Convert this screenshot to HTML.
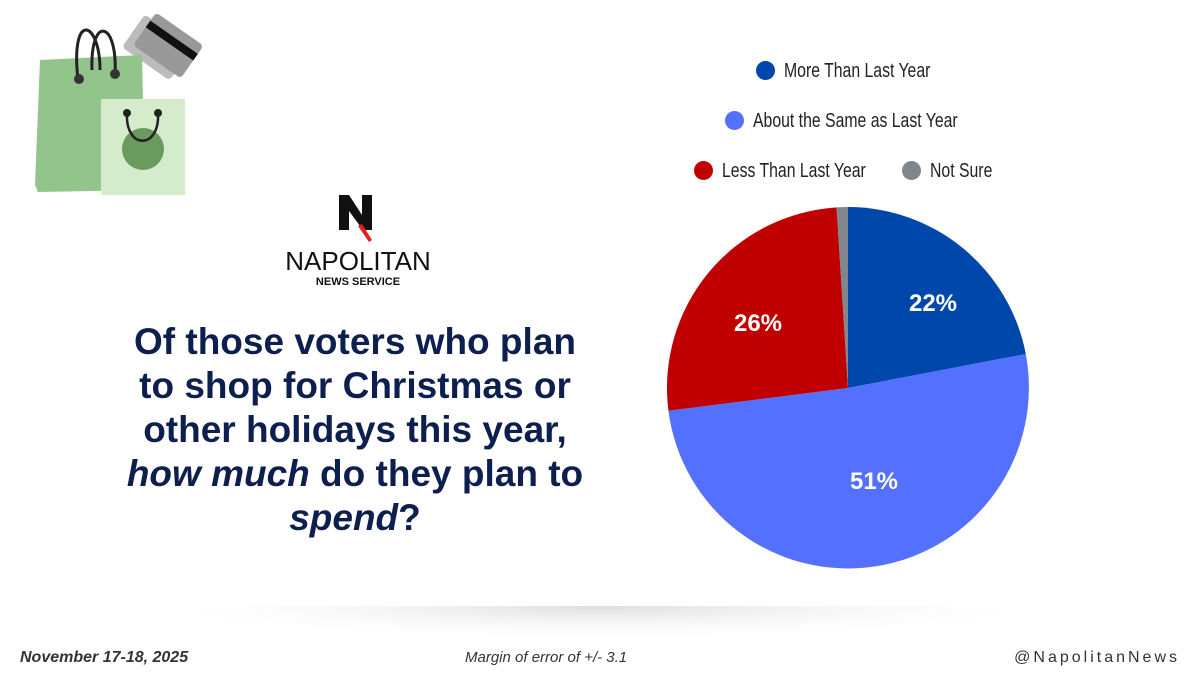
<!DOCTYPE html>
<html><head><meta charset="utf-8"><style>
html,body{margin:0;padding:0;background:#fff;}
body{width:1200px;height:675px;position:relative;overflow:hidden;font-family:"Liberation Sans",sans-serif;}
.leg{position:absolute;font-family:"Liberation Sans",sans-serif;font-size:20px;color:#222;white-space:nowrap;}
.leg span.t{display:inline-block;transform:scaleX(0.79);transform-origin:left center;}
.dot{display:inline-block;width:19px;height:19px;border-radius:50%;vertical-align:-3px;margin-right:9px;}
.title{position:absolute;left:100px;top:320px;width:510px;text-align:center;font-weight:bold;font-size:37px;line-height:44px;color:#0d1f4f;white-space:nowrap;}
.foot{position:absolute;top:649px;font-size:16px;color:#333;font-style:italic;}
</style></head><body>
<svg width="1200" height="675" style="position:absolute;left:0;top:0">
<defs><radialGradient id="sh" cx="50%" cy="0%" r="60%"><stop offset="0" stop-color="#ddd"/><stop offset="1" stop-color="#fff" stop-opacity="0"/></radialGradient></defs>
<rect x="200" y="606" width="800" height="60" fill="url(#sh)"/>
<g transform="rotate(35 158 48)"><rect x="128" y="28" width="58" height="40" rx="4" fill="#bbb"/><rect x="136" y="20" width="58" height="40" rx="4" fill="#999"/><rect x="136" y="30" width="58" height="8" fill="#111"/></g>
<polygon points="40,60 142,55 145,190 38,192 35,185" fill="#93c48b"/>
<path d="M78,80 C70,10 100,20 100,70 M92,70 C90,15 118,20 115,75" stroke="#222" stroke-width="3" fill="none"/>
<circle cx="79" cy="79" r="5" fill="#333"/><circle cx="115" cy="74" r="5" fill="#333"/>
<rect x="101" y="99" width="84" height="96" fill="#d4eccc"/>
<circle cx="143" cy="149" r="21" fill="#6b9a5e"/>
<path d="M127,113 C125,150 160,150 158,113" stroke="#222" stroke-width="2.5" fill="none"/>
<circle cx="127" cy="113" r="4" fill="#222"/><circle cx="158" cy="113" r="4" fill="#222"/>
<polygon points="339,195 349,195 362,215 362,195 372,195 372,230 363,230 349,211 349,230 339,230" fill="#111"/>
<polygon points="358,226 362,224 372,240 369,242" fill="#d22"/>
<text x="358" y="270" text-anchor="middle" font-family="Liberation Sans" font-size="26" fill="#111">NAPOLITAN</text>
<text x="358" y="285" text-anchor="middle" font-family="Liberation Sans" font-weight="bold" font-size="11" fill="#111">NEWS SERVICE</text>
<path d="M848,388 L848,207 A181,181 0 0 1 1025.8,354.1 Z" fill="#0047ab"/>
<path d="M848,388 L1025.8,354.1 A181,181 0 1 1 668.4,410.7 Z" fill="#5470ff"/>
<path d="M848,388 L668.4,410.7 A181,181 0 0 1 836.6,207.4 Z" fill="#c00000"/>
<path d="M848,388 L836.6,207.4 A181,181 0 0 1 848,207 Z" fill="#7f868d"/>
<g font-family="Liberation Sans" font-weight="bold" font-size="24" fill="#fff" text-anchor="middle">
<text x="933" y="311">22%</text><text x="874" y="489">51%</text><text x="758" y="331">26%</text></g>
</svg>
<div class="leg" style="left:756px;top:60px"><span class="dot" style="background:#0047ab"></span><span class="t">More Than Last Year</span></div>
<div class="leg" style="left:725px;top:110px"><span class="dot" style="background:#5470ff"></span><span class="t">About the Same as Last Year</span></div>
<div class="leg" style="left:694px;top:160px"><span class="dot" style="background:#c00000"></span><span class="t">Less Than Last Year</span></div>
<div class="leg" style="left:902px;top:160px"><span class="dot" style="background:#7f868d"></span><span class="t">Not Sure</span></div>
<div class="title">Of those voters who plan<br>to shop for Christmas or<br>other holidays this year,<br><i>how much</i> do they plan to<br><i>spend</i>?</div>
<div class="foot" style="left:20px;font-weight:bold;">November 17-18, 2025</div>
<div class="foot" style="left:465px;font-size:15px;">Margin of error of +/- 3.1</div>
<div class="foot" style="right:20px;font-style:normal;letter-spacing:3px;">@NapolitanNews</div>
</body></html>
